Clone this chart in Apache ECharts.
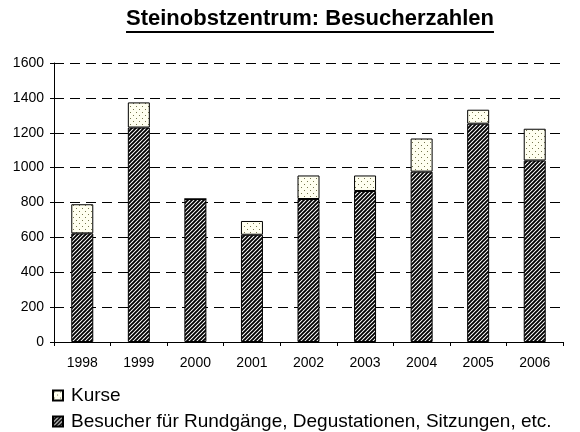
<!DOCTYPE html>
<html>
<head>
<meta charset="utf-8">
<script src="https://cdn.jsdelivr.net/npm/echarts@6/dist/echarts.min.js"></script>
<style>
html,body{margin:0;padding:0;background:#fff;}
#chart{width:580px;height:432px;}
</style>
</head>
<body>
<div id="chart"></div>
<script>
// Daten
var titleText = 'Steinobstzentrum: Besucherzahlen';
var years = ['1998', '1999', '2000', '2001', '2002', '2003', '2004', '2005', '2006'];
var besucherName = 'Besucher für Rundgänge, Degustationen, Sitzungen, etc.';
var kurseName = 'Kurse';
var besucher = [623, 1230, 820, 615, 820, 866, 977, 1252, 1041];
var kurse = [167, 144, 0, 79, 135, 89, 190, 80, 182];
var yTicks = [0, 200, 400, 600, 800, 1000, 1200, 1400, 1600];

var fontName = '"Liberation Sans", Arial, sans-serif';

// Schraffur "/" für Besucher
function hatchPattern(){
	var c = document.createElement('canvas');
	c.width = 4; c.height = 4;
	var g = c.getContext('2d');
	g.fillStyle = '#fff';
	g.fillRect(0, 0, 4, 4);
	g.strokeStyle = '#000';
	g.lineWidth = 1.9;
	g.beginPath();
	g.moveTo(-1, 5); g.lineTo(5, -1);
	g.moveTo(-3, 3); g.lineTo(3, -3);
	g.moveTo(1, 7); g.lineTo(7, 1);
	g.stroke();
	return c;
}
// Punkte für Kurse
function dotPattern(){
	var c = document.createElement('canvas');
	c.width = 6; c.height = 6;
	var g = c.getContext('2d');
	g.fillStyle = '#fffff0';
	g.fillRect(0, 0, 6, 6);
	g.fillStyle = '#77774f';
	g.fillRect(1, 1, 1, 1);
	g.fillRect(4, 4, 1, 1);
	return c;
}

var mctx = document.createElement('canvas').getContext('2d');
mctx.font = 'bold 22px ' + fontName;
var titleW = mctx.measureText(titleText).width;
var titleX = 310;

function legendBox(name, top){
	return {
		orient: 'vertical',
		left: 47,
		top: top,
		icon: 'rect',
		itemWidth: 10,
		itemHeight: 10,
		itemGap: 0,
		textStyle: {fontSize: 19, color: '#000', fontFamily: fontName, padding: [0, 0, 0, 3]},
		data: [name]
	};
}

var chart = echarts.init(document.getElementById('chart'));
var option = {
	animation: false,
	backgroundColor: '#fff',
	textStyle: {fontFamily: fontName},
	grid: {left: 54, right: 17, top: 63, bottom: 90},
	graphic: [
		{
			type: 'text',
			left: titleX - titleW / 2,
			top: 8,
			style: {text: titleText, font: 'bold 22px ' + fontName, fill: '#000'}
		},
		{
			type: 'line',
			shape: {x1: titleX - titleW / 2, y1: 32, x2: titleX + titleW / 2, y2: 32},
			style: {stroke: '#000', lineWidth: 2}
		}
	],
	legend: [legendBox(kurseName, 381), legendBox(besucherName, 407)],
	xAxis: {
		type: 'category',
		data: years,
		axisLine: {lineStyle: {color: '#000', width: 1}},
		axisTick: {show: true, length: 4, lineStyle: {color: '#000'}},
		axisLabel: {color: '#000', fontSize: 14, margin: 14, fontFamily: fontName}
	},
	yAxis: {
		type: 'value',
		min: yTicks[0],
		max: yTicks[yTicks.length - 1],
		interval: 200,
		axisLine: {show: true, lineStyle: {color: '#000', width: 1}},
		axisTick: {show: true, length: 4, lineStyle: {color: '#000'}},
		axisLabel: {color: '#000', fontSize: 14, margin: 10, fontFamily: fontName,
			formatter: function(v){ return String(v); }},
		splitLine: {show: true, lineStyle: {color: '#000', type: [10, 6], width: 1}}
	},
	series: [
		{
			name: besucherName,
			type: 'bar',
			stack: 'total',
			barWidth: 22,
			itemStyle: {color: {image: hatchPattern(), repeat: 'repeat'}, borderColor: '#000', borderWidth: 1},
			data: besucher
		},
		{
			name: kurseName,
			type: 'bar',
			stack: 'total',
			barWidth: 22,
			itemStyle: {color: {image: dotPattern(), repeat: 'repeat'}, borderColor: '#000', borderWidth: 1},
			data: kurse
		}
	]
};
chart.setOption(option);
</script>
</body>
</html>
